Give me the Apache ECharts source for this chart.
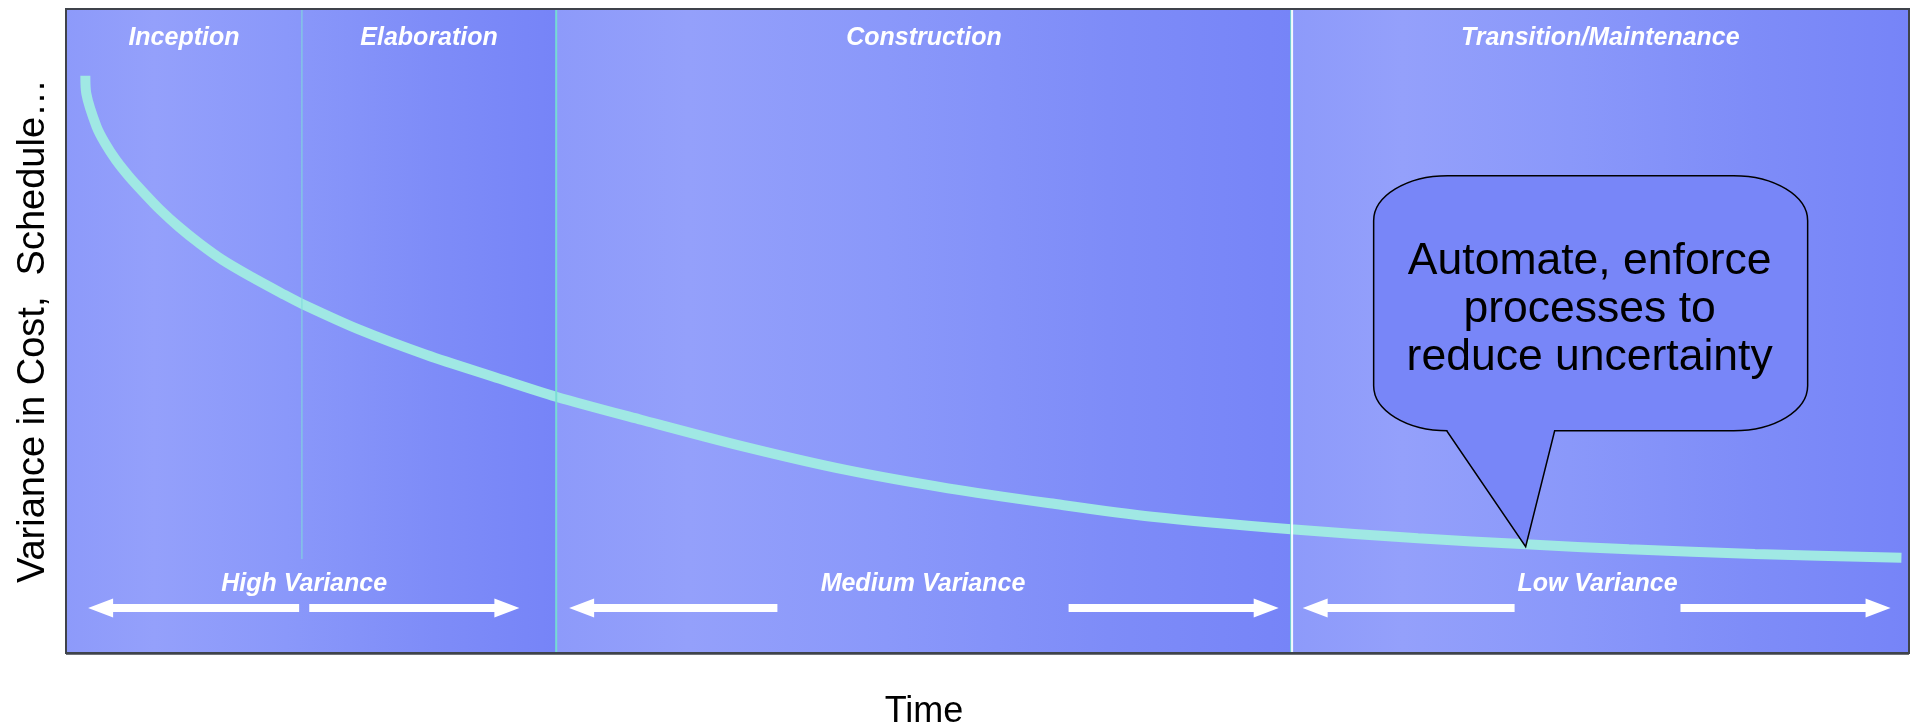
<!DOCTYPE html>
<html>
<head>
<meta charset="utf-8">
<script src="https://cdn.jsdelivr.net/npm/echarts@6/dist/echarts.min.js"></script>
<style>
  html, body { margin: 0; padding: 0; background: #ffffff; }
  #chart { width: 1913px; height: 726px; }
</style>
</head>
<body>
<div id="chart"></div>
<script>
// Project phases along the time axis (time as % of the project)
const phaseNames = ['Inception', 'Elaboration', 'Construction', 'Transition/Maintenance'];
const phaseStart = [0, 12.8, 26.6, 66.5];
const phaseEnd = [12.8, 26.6, 66.5, 100];

// Variance bands, and the spans of the two arrows under each band label
const bandNames = ['High Variance', 'Medium Variance', 'Low Variance'];
const bandStart = [0, 26.6, 66.5];
const bandEnd = [26.6, 66.5, 100];
const arrowLeftSpan = [[1.2, 12.65], [27.3, 38.6], [67.1, 78.6]];
const arrowRightSpan = [[13.2, 24.6], [54.4, 65.8], [87.6, 99.0]];

// Variance curve: time vs. variance
const curveTime = [1.05, 1.10, 1.66, 2.12, 2.71, 3.43, 4.25, 5.12, 6.11, 7.23, 8.50, 10.04, 11.70, 12.82,
  15.95, 19.57, 23.19, 26.59, 31.25, 36.79, 42.32, 47.86, 53.39, 58.93, 66.47, 73.36, 79.22, 84.81, 91.64, 99.59];
const curveVariance = [89.64, 86.91, 81.72, 79.15, 76.55, 73.96, 71.38, 68.79, 66.20, 63.62, 61.02, 58.43, 55.85, 54.19,
  50.16, 46.27, 42.90, 39.80, 36.18, 32.04, 28.42, 25.57, 23.25, 21.16, 19.21, 17.81, 16.88, 16.10, 15.37, 14.80];

// Speech-bubble note pointing at the curve
const calloutLines = ['Automate, enforce', 'processes to', 'reduce uncertainty'];
const calloutPoint = [79.2, 16.5];

const FONT = '"Liberation Sans", Arial, Helvetica, sans-serif';

function bandGradient() {
  return new echarts.graphic.LinearGradient(0, 0, 1, 0, [
    { offset: 0, color: '#8d9afa' },
    { offset: 0.18, color: '#94a0fb' },
    { offset: 0.45, color: '#8a98fa' },
    { offset: 0.75, color: '#7e8cf8' },
    { offset: 1, color: '#7684f8' }
  ]);
}

// Background panels, one per variance band
function renderBand(params, api) {
  const p0 = api.coord([api.value(0), 100]);
  const p1 = api.coord([api.value(1), 0]);
  return {
    type: 'rect',
    shape: { x: p0[0], y: p0[1], width: p1[0] - p0[0], height: p1[1] - p0[1] },
    style: { fill: bandGradient(), stroke: '#7cdcd6', lineWidth: 1 }
  };
}

// Band label with a pair of white arrows beneath it
function arrowPoints(x1, x2, y, headLeft) {
  const hl = 25, hh = 9.5, sw = 4;
  if (headLeft) {
    return [[x1, y], [x1 + hl, y - hh], [x1 + hl, y - sw], [x2, y - sw], [x2, y + sw], [x1 + hl, y + sw], [x1 + hl, y + hh]];
  }
  return [[x2, y], [x2 - hl, y - hh], [x2 - hl, y - sw], [x1, y - sw], [x1, y + sw], [x2 - hl, y + sw], [x2 - hl, y + hh]];
}
function renderBandLabel(params, api) {
  const cs = params.coordSys;
  const bottom = cs.y + cs.height;
  const la = api.coord([api.value(2), 0])[0], lb = api.coord([api.value(3), 0])[0];
  const ra = api.coord([api.value(4), 0])[0], rb = api.coord([api.value(5), 0])[0];
  const ay = bottom - 45;
  return {
    type: 'group',
    children: [
      { type: 'polygon', shape: { points: arrowPoints(la, lb, ay, true) }, style: { fill: '#ffffff' } },
      { type: 'polygon', shape: { points: arrowPoints(ra, rb, ay, false) }, style: { fill: '#ffffff' } },
      {
        type: 'text',
        style: {
          text: bandNames[params.dataIndex], x: (lb + ra) / 2, y: bottom - 69,
          align: 'center', verticalAlign: 'middle', fill: '#ffffff',
          fontSize: 25, fontWeight: 'bold', fontStyle: 'italic', fontFamily: FONT
        }
      }
    ]
  };
}

// Phase names across the top
function renderPhaseLabel(params, api) {
  const cs = params.coordSys;
  const x0 = api.coord([api.value(0), 0])[0], x1 = api.coord([api.value(1), 0])[0];
  return {
    type: 'text',
    style: {
      text: phaseNames[params.dataIndex], x: (x0 + x1) / 2, y: cs.y + 29,
      align: 'center', verticalAlign: 'middle', fill: '#ffffff',
      fontSize: 25, fontWeight: 'bold', fontStyle: 'italic', fontFamily: FONT
    }
  };
}

// Boundaries between phases
function renderSeparator(params, api) {
  const cs = params.coordSys;
  const x = api.coord([api.value(0), 0])[0];
  const i = params.dataIndex;
  const top = cs.y, bottom = cs.y + cs.height;
  if (i === 0) {
    return { type: 'line', shape: { x1: x, y1: top, x2: x, y2: bottom - 94 }, style: { stroke: '#80dcdc', lineWidth: 1.2, opacity: 0.85 } };
  }
  if (i === 1) {
    return { type: 'line', shape: { x1: x, y1: top, x2: x, y2: bottom }, style: { stroke: '#74dcd2', lineWidth: 2, opacity: 0.85 } };
  }
  return {
    type: 'group',
    children: [
      { type: 'line', shape: { x1: x - 1, y1: top, x2: x - 1, y2: bottom }, style: { stroke: '#70dccf', lineWidth: 1, opacity: 0.9 } },
      { type: 'line', shape: { x1: x + 0.5, y1: top, x2: x + 0.5, y2: bottom }, style: { stroke: '#ffffff', lineWidth: 2, opacity: 0.9 } }
    ]
  };
}

// Speech bubble
function renderCallout(params, api) {
  const tip = api.coord([api.value(0), api.value(1)]);
  const tx = tip[0], ty = tip[1];
  const L = tx - 152, R = tx + 282, T = ty - 371, B = ty - 116;
  const rx = 74, ry = 45;
  const bl = tx - 79, br = tx + 29;
  const d = 'M' + (L + rx) + ' ' + T +
    ' L' + (R - rx) + ' ' + T +
    ' A' + rx + ' ' + ry + ' 0 0 1 ' + R + ' ' + (T + ry) +
    ' L' + R + ' ' + (B - ry) +
    ' A' + rx + ' ' + ry + ' 0 0 1 ' + (R - rx) + ' ' + B +
    ' L' + br + ' ' + B +
    ' L' + tx + ' ' + ty +
    ' L' + bl + ' ' + B +
    ' L' + (L + rx) + ' ' + B +
    ' A' + rx + ' ' + ry + ' 0 0 1 ' + L + ' ' + (B - ry) +
    ' L' + L + ' ' + (T + ry) +
    ' A' + rx + ' ' + ry + ' 0 0 1 ' + (L + rx) + ' ' + T + ' Z';
  return {
    type: 'group',
    children: [
      { type: 'path', shape: { pathData: d }, style: { fill: '#7886f8', stroke: '#000000', lineWidth: 1.5 } },
      {
        type: 'text',
        style: {
          text: calloutLines.join('\n'), x: (L + R) / 2 - 1, y: (T + B) / 2 + 6,
          align: 'center', verticalAlign: 'middle', fill: '#000000',
          fontSize: 44.5, lineHeight: 48, fontFamily: FONT
        }
      }
    ]
  };
}

// Dark frame around the plot
function renderFrame(params) {
  const cs = params.coordSys;
  return {
    type: 'group',
    children: [
      { type: 'rect', shape: { x: cs.x, y: cs.y, width: cs.width, height: cs.height }, style: { fill: null, stroke: '#3f434b', lineWidth: 2 } },
      { type: 'line', shape: { x1: cs.x, y1: cs.y + cs.height + 0.5, x2: cs.x + cs.width, y2: cs.y + cs.height + 0.5 }, style: { stroke: '#3f434b', lineWidth: 2.5 } }
    ]
  };
}

const chart = echarts.init(document.getElementById('chart'), null, { renderer: 'canvas' });
chart.setOption({
  animation: false,
  backgroundColor: '#ffffff',
  grid: { left: 66, right: 4, top: 9, bottom: 73, containLabel: false, outerBoundsMode: 'none' },
  xAxis: {
    type: 'value', min: 0, max: 100,
    axisLine: { show: false }, axisTick: { show: false }, axisLabel: { show: false }, splitLine: { show: false },
    name: 'Time', nameLocation: 'middle', nameGap: 41,
    nameTextStyle: { fontSize: 36, fontFamily: FONT, color: '#000000', padding: [0, 127, 0, 0] }
  },
  yAxis: {
    type: 'value', min: 0, max: 100,
    axisLine: { show: false }, axisTick: { show: false }, axisLabel: { show: false }, splitLine: { show: false },
    name: 'Variance in Cost,  Schedule\u2026', nameLocation: 'middle', nameGap: 13, nameRotate: 90,
    nameTextStyle: { fontSize: 38, fontFamily: FONT, color: '#000000' }
  },
  series: [
    {
      type: 'custom', z: 1, silent: true, clip: false,
      data: bandStart.map((s, i) => [s, bandEnd[i]]),
      renderItem: renderBand
    },
    {
      type: 'line', z: 3, silent: true,
      data: curveTime.map((t, i) => [t, curveVariance[i]]),
      showSymbol: false, symbol: 'none', smooth: 0.3,
      lineStyle: { color: '#a0e8e4', width: 10, cap: 'butt' }
    },
    {
      type: 'custom', z: 4, silent: true, clip: false,
      data: phaseStart.slice(1).map(v => [v]),
      renderItem: renderSeparator
    },
    {
      type: 'custom', z: 5, silent: true, clip: false,
      data: phaseStart.map((s, i) => [s, phaseEnd[i]]),
      renderItem: renderPhaseLabel
    },
    {
      type: 'custom', z: 5, silent: true, clip: false,
      data: bandStart.map((s, i) => [s, bandEnd[i], arrowLeftSpan[i][0], arrowLeftSpan[i][1], arrowRightSpan[i][0], arrowRightSpan[i][1]]),
      renderItem: renderBandLabel
    },
    {
      type: 'custom', z: 6, silent: true, clip: false,
      data: [calloutPoint],
      renderItem: renderCallout
    },
    {
      type: 'custom', z: 7, silent: true, clip: false,
      data: [[0, 0]],
      renderItem: renderFrame
    }
  ]
});
</script>
</body>
</html>
